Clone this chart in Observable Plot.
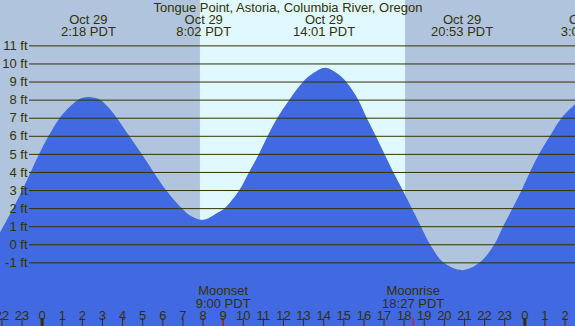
<!DOCTYPE html>
<html>
<head>
<meta charset="utf-8">
<script src="https://cdn.jsdelivr.net/npm/d3@7"></script>
<script src="https://cdn.jsdelivr.net/npm/@observablehq/plot@0.6"></script>
<style>
  html, body { margin: 0; padding: 0; overflow: hidden; background: #b0c4de; }
  svg { display: block; }
</style>
</head>
<body>
<script>
// Tide height (ft); hours relative to Oct 29 00:00 PDT
const tideHours = [-2.07, -1.41, -0.96, -0.54, -0.12, 0.35, 0.91, 1.32, 1.82, 2.30, 2.90, 3.36, 3.73, 4.35, 4.97, 5.56, 6.18, 6.96, 7.38, 8.03, 8.70, 9.11, 9.83, 10.32, 10.81, 11.24, 11.72, 12.32, 13.01, 13.48, 14.09, 14.70, 15.13, 15.74, 16.16, 16.61, 17.04, 17.48, 17.95, 18.40, 18.85, 19.31, 19.97, 20.93, 21.79, 22.51, 22.95, 23.42, 23.87, 24.28, 24.74, 25.28, 25.86, 26.52];
const tideFeet  = [0.64, 2, 3, 4, 5, 6, 7, 7.52, 8, 8.15, 8, 7.52, 7, 6, 5, 4, 3, 2, 1.59, 1.35, 1.71, 2, 3, 4, 5, 6, 7, 8, 9, 9.44, 9.76, 9.44, 9, 8, 7, 6, 5, 4, 3, 2, 1, 0, -1, -1.43, -1, 0, 1, 2, 3, 4, 5, 6, 7, 7.74];

// High / low tide labels
const tideLabelHours = [2.3, 8.033, 14.017, 20.883, 27.15];
const tideLabelDates = ["Oct 29", "Oct 29", "Oct 29", "Oct 29", "Oct 30"];
const tideLabelTimes = ["2:18 PDT", "8:02 PDT", "14:01 PDT", "20:53 PDT", "3:09 PDT"];

// Sun (daylight band)
const sunriseHour = 7.87;
const sunsetHour = 18.07;

// Moon events
const moonHours = [9.0, 18.45];
const moonNames = ["Moonset", "Moonrise"];
const moonTimes = ["9:00 PDT", "18:27 PDT"];

// Axis ticks
const feetTicks = [-1, 0, 1, 2, 3, 4, 5, 6, 7, 8, 9, 10, 11];
const hourTicks = d3.range(-2, 27);
const midnightTicks = [0, 24];

const title = "Tongue Point, Astoria, Columbia River, Oregon";

const xDomain = [-2.07, 26.52];
const yDomain = [-4.52, 13.51];

const tide = tideHours.map((h, i) => ({h, ft: tideFeet[i]}));
const tideLabels = tideLabelHours.map((h, i) => ({h, text: tideLabelDates[i] + "\n" + tideLabelTimes[i]}));
const moon = moonHours.map((h, i) => ({h, text: moonNames[i] + "\n" + moonTimes[i]}));

const ink = "#333300";

const chart = Plot.plot({
  width: 575,
  height: 326,
  margin: 0,
  x: {domain: xDomain, axis: null},
  y: {domain: yDomain, axis: null},
  style: {background: "#b0c4de", fontFamily: "'Liberation Sans', Arial, sans-serif", fontSize: "13px", color: ink, overflow: "hidden"},
  marks: [
    Plot.rect([{x1: sunriseHour, x2: sunsetHour}], {x1: "x1", x2: "x2", fill: "#e0f8ff"}),
    Plot.areaY(tide, {x: "h", y1: yDomain[0], y2: "ft", fill: "#4169e1", curve: "catmull-rom"}),
    Plot.ruleY(feetTicks, {y: d => d, stroke: ink, strokeWidth: 1, insetLeft: 29}),
    Plot.text(feetTicks, {y: d => d, text: d => `${d} ft`, frameAnchor: "left", textAnchor: "end", dx: 27, fill: ink, fontSize: 13}),
    Plot.text([title], {text: d => d, frameAnchor: "top", dy: 1.8, fill: ink, fontSize: 13}),
    Plot.text(tideLabels, {x: "h", text: "text", frameAnchor: "top", dy: 14.4, lineHeight: 0.96, fill: ink, fontSize: 13}),
    Plot.ruleX(hourTicks, {x: d => d, insetTop: 318, stroke: ink}),
    Plot.ruleX(midnightTicks, {x: d => d, insetTop: 318, stroke: ink, strokeWidth: 3}),
    Plot.ruleX(moonHours, {x: d => d, insetTop: 318, stroke: "red"}),
    Plot.text(hourTicks, {x: d => d, text: d => String(((d % 24) + 24) % 24), frameAnchor: "bottom", dy: -6.2, fill: ink, fontSize: 13}),
    Plot.text(moon, {x: "h", text: "text", frameAnchor: "bottom", dy: -18.9, lineHeight: 0.97, fill: ink, fontSize: 13})
  ]
});
document.body.appendChild(chart);
</script>
</body>
</html>
